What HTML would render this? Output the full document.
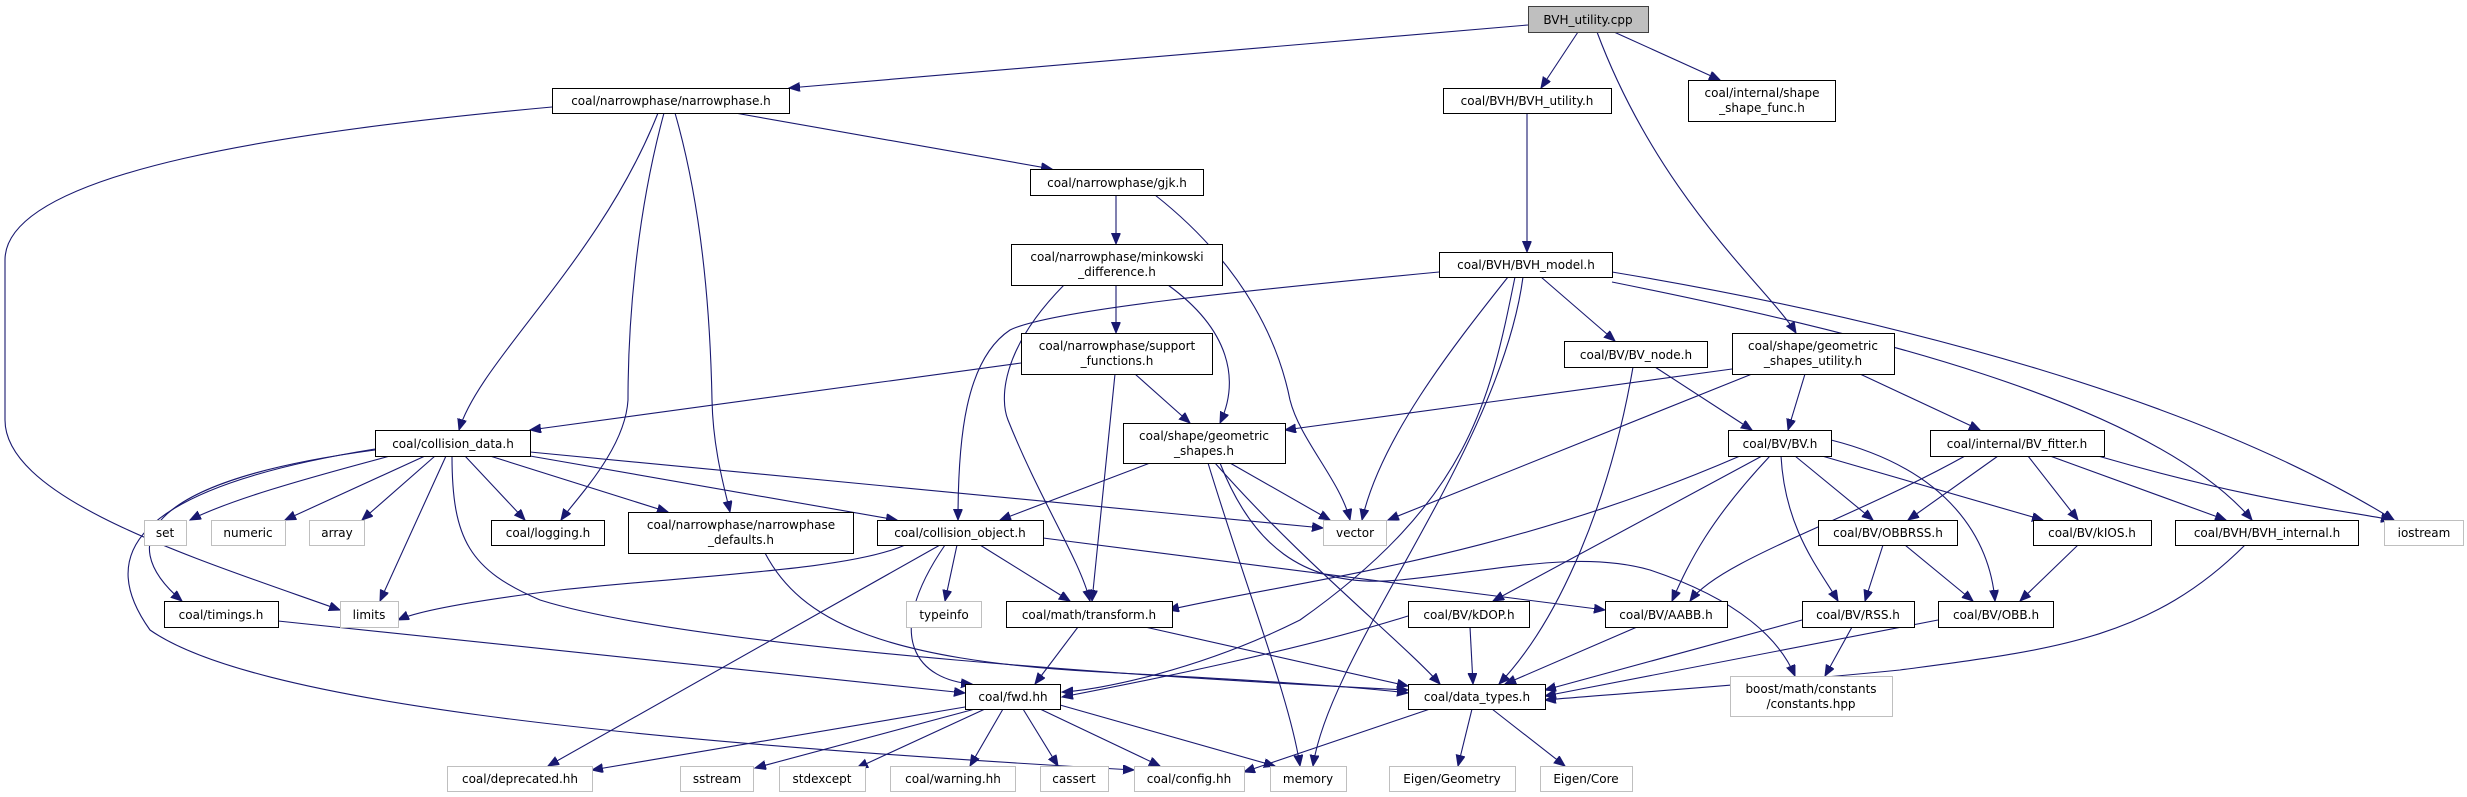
<!DOCTYPE html>
<html><head><meta charset="utf-8"><style>
html,body{margin:0;padding:0;background:#fff;}
svg{display:block;}
text{font-family:"DejaVu Sans","Liberation Sans",sans-serif;font-size:12px;fill:#000;text-anchor:middle;}
.n{fill:#fff;stroke:#000;stroke-width:1;}
.g{fill:#fff;stroke:#bfbfbf;stroke-width:1;}
.r{fill:#bfbfbf;stroke:#404040;stroke-width:1;}
path{fill:none;stroke:#191970;stroke-width:1.1;marker-end:url(#a);}
</style></head><body>
<svg width="2467" height="797" viewBox="0 0 2467 797" xmlns="http://www.w3.org/2000/svg">
<defs><marker id="a" markerUnits="userSpaceOnUse" markerWidth="12" markerHeight="10" refX="11" refY="4.5" orient="auto"><polygon points="0,0 11,4.5 0,9" fill="#191970" stroke="#191970"/></marker></defs>

<!-- edges -->
<path d="M1528,25 L789,88"/>
<path d="M1578,32 L1541,88"/>
<path d="M1597,32 C1660,200 1770,290 1796,333"/>
<path d="M1614,32 L1720,80"/>
<path d="M552,107 C300,130 5,170 5,260 L5,420 C5,500 200,560 340,610"/>
<path d="M658,113 C600,260 480,360 459,430"/>
<path d="M664,113 C635,220 628,330 628,400 C625,450 575,500 561,520"/>
<path d="M675,113 C700,200 710,300 712,400 C713,450 725,490 730,512"/>
<path d="M735,113 L1052,169"/>
<path d="M1116,195 L1116,244"/>
<path d="M1155,195 C1250,270 1280,350 1290,400 C1300,440 1340,480 1350,520"/>
<path d="M1116,285 L1116,333"/>
<path d="M1064,285 C1000,350 1000,400 1008,420 C1040,500 1080,560 1090,601"/>
<path d="M1168,285 C1230,330 1240,380 1220,423"/>
<path d="M1021,363 L530,430"/>
<path d="M1115,374 L1092,601"/>
<path d="M1135,374 L1190,423"/>
<path d="M1527,113 L1527,252"/>
<path d="M1439,272 C1250,290 1050,310 1010,330 C965,360 958,440 958,520"/>
<path d="M1508,277 C1450,350 1380,440 1362,520"/>
<path d="M1515,277 C1490,400 1470,500 1300,620 C1200,670 1100,690 1062,692"/>
<path d="M1523,277 C1500,450 1330,650 1313,766"/>
<path d="M1541,277 L1615,341"/>
<path d="M1612,282 C1850,330 2150,400 2252,520"/>
<path d="M1612,272 C1900,320 2200,400 2394,520"/>
<path d="M1633,367 C1610,500 1560,620 1499,684"/>
<path d="M1655,367 L1752,430"/>
<path d="M1732,369 L1285,430"/>
<path d="M1805,374 L1788,430"/>
<path d="M1860,374 L1980,430"/>
<path d="M1752,374 L1388,520"/>
<path d="M1150,463 L1000,520"/>
<path d="M1230,463 L1330,520"/>
<path d="M1208,463 C1250,600 1290,700 1300,766"/>
<path d="M1215,463 C1300,560 1400,640 1440,684"/>
<path d="M1220,463 C1250,540 1300,590 1400,580 C1500,570 1580,550 1650,570 C1740,600 1780,640 1795,676"/>
<path d="M390,456 C300,480 230,500 190,520"/>
<path d="M425,456 L285,520"/>
<path d="M435,456 L362,520"/>
<path d="M465,456 L525,520"/>
<path d="M490,456 L668,512"/>
<path d="M530,456 L897,520"/>
<path d="M530,452 L1323,528"/>
<path d="M446,456 L380,601"/>
<path d="M375,450 C150,480 110,540 182,601"/>
<path d="M375,449 C120,490 100,560 150,630 C250,700 600,740 1134,770"/>
<path d="M452,456 C452,540 470,570 540,600 C700,650 1200,680 1408,690"/>
<path d="M905,545 C850,570 700,575 560,590 C480,600 420,610 398,620"/>
<path d="M940,545 L548,766"/>
<path d="M945,545 C880,640 920,680 972,684"/>
<path d="M957,545 L945,601"/>
<path d="M980,545 L1070,601"/>
<path d="M1043,538 L1605,610"/>
<path d="M765,553 C800,620 880,660 1100,672 C1250,680 1350,686 1408,693"/>
<path d="M1078,627 L1035,684"/>
<path d="M1145,627 L1408,686"/>
<path d="M278,621 L965,693"/>
<path d="M965,707 L592,770"/>
<path d="M975,709 L755,768"/>
<path d="M985,709 L857,768"/>
<path d="M1003,709 L970,766"/>
<path d="M1023,709 L1058,766"/>
<path d="M1040,709 L1160,766"/>
<path d="M1060,705 L1275,766"/>
<path d="M1430,709 L1244,772"/>
<path d="M1472,709 L1458,766"/>
<path d="M1492,709 L1565,766"/>
<path d="M1740,456 C1500,560 1300,580 1168,610"/>
<path d="M1762,456 L1493,601"/>
<path d="M1770,456 C1710,520 1690,560 1672,601"/>
<path d="M1781,456 C1785,530 1820,570 1838,601"/>
<path d="M1795,456 L1873,520"/>
<path d="M1822,456 L2043,520"/>
<path d="M1831,440 C1950,470 1990,540 1995,601"/>
<path d="M1965,456 C1850,520 1720,560 1690,601"/>
<path d="M1998,456 L1908,520"/>
<path d="M2028,456 L2078,520"/>
<path d="M2050,456 L2226,520"/>
<path d="M2098,456 C2250,500 2340,510 2392,520"/>
<path d="M1883,545 L1865,601"/>
<path d="M1905,545 L1973,601"/>
<path d="M2078,545 L2020,601"/>
<path d="M2245,545 C2150,640 2050,650 1900,670 C1750,685 1600,695 1545,700"/>
<path d="M1470,627 L1473,684"/>
<path d="M1408,616 C1300,650 1150,680 1062,697"/>
<path d="M1637,627 L1505,684"/>
<path d="M1802,620 L1545,690"/>
<path d="M1852,627 L1825,676"/>
<path d="M1938,620 L1545,696"/>

<!-- nodes -->
<rect class="r" x="1528.5" y="6.5" width="120" height="26"/><text x="1588" y="24">BVH_utility.cpp</text>
<rect class="n" x="552.5" y="88.5" width="237" height="25"/><text x="671" y="105">coal/narrowphase/narrowphase.h</text>
<rect class="n" x="1443.5" y="88.5" width="168" height="25"/><text x="1527" y="105">coal/BVH/BVH_utility.h</text>
<rect class="n" x="1688.5" y="80.5" width="147" height="41"/><text x="1762" y="97">coal/internal/shape</text><text x="1762" y="112">_shape_func.h</text>
<rect class="n" x="1030.5" y="169.5" width="173" height="26"/><text x="1117" y="187">coal/narrowphase/gjk.h</text>
<rect class="n" x="1011.5" y="244.5" width="211" height="41"/><text x="1117" y="261">coal/narrowphase/minkowski</text><text x="1117" y="276">_difference.h</text>
<rect class="n" x="1439.5" y="252.5" width="173" height="25"/><text x="1526" y="269">coal/BVH/BVH_model.h</text>
<rect class="n" x="1021.5" y="333.5" width="191" height="41"/><text x="1117" y="350">coal/narrowphase/support</text><text x="1117" y="365">_functions.h</text>
<rect class="n" x="1564.5" y="341.5" width="143" height="26"/><text x="1636" y="359">coal/BV/BV_node.h</text>
<rect class="n" x="1732.5" y="333.5" width="162" height="41"/><text x="1813" y="350">coal/shape/geometric</text><text x="1813" y="365">_shapes_utility.h</text>
<rect class="n" x="375.5" y="430.5" width="155" height="26"/><text x="453" y="448">coal/collision_data.h</text>
<rect class="n" x="1123.5" y="423.5" width="162" height="40"/><text x="1204" y="440">coal/shape/geometric</text><text x="1204" y="455">_shapes.h</text>
<rect class="n" x="1728.5" y="430.5" width="103" height="26"/><text x="1780" y="448">coal/BV/BV.h</text>
<rect class="n" x="1930.5" y="430.5" width="174" height="26"/><text x="2017" y="448">coal/internal/BV_fitter.h</text>
<rect class="g" x="144.5" y="520.5" width="42" height="25"/><text x="165" y="537">set</text>
<rect class="g" x="211.5" y="520.5" width="74" height="25"/><text x="248" y="537">numeric</text>
<rect class="g" x="309.5" y="520.5" width="55" height="25"/><text x="337" y="537">array</text>
<rect class="n" x="491.5" y="520.5" width="113" height="25"/><text x="548" y="537">coal/logging.h</text>
<rect class="n" x="628.5" y="512.5" width="225" height="41"/><text x="741" y="529">coal/narrowphase/narrowphase</text><text x="741" y="544">_defaults.h</text>
<rect class="n" x="877.5" y="520.5" width="166" height="25"/><text x="960" y="537">coal/collision_object.h</text>
<rect class="g" x="1323.5" y="520.5" width="63" height="25"/><text x="1355" y="537">vector</text>
<rect class="n" x="1818.5" y="520.5" width="139" height="25"/><text x="1888" y="537">coal/BV/OBBRSS.h</text>
<rect class="n" x="2033.5" y="520.5" width="118" height="25"/><text x="2092" y="537">coal/BV/kIOS.h</text>
<rect class="n" x="2175.5" y="520.5" width="183" height="25"/><text x="2267" y="537">coal/BVH/BVH_internal.h</text>
<rect class="g" x="2384.5" y="520.5" width="79" height="25"/><text x="2424" y="537">iostream</text>
<rect class="n" x="164.5" y="601.5" width="114" height="26"/><text x="221" y="619">coal/timings.h</text>
<rect class="g" x="340.5" y="601.5" width="58" height="26"/><text x="369" y="619">limits</text>
<rect class="g" x="906.5" y="601.5" width="75" height="26"/><text x="944" y="619">typeinfo</text>
<rect class="n" x="1006.5" y="601.5" width="166" height="26"/><text x="1089" y="619">coal/math/transform.h</text>
<rect class="n" x="1408.5" y="601.5" width="121" height="26"/><text x="1469" y="619">coal/BV/kDOP.h</text>
<rect class="n" x="1605.5" y="601.5" width="122" height="26"/><text x="1666" y="619">coal/BV/AABB.h</text>
<rect class="n" x="1802.5" y="601.5" width="112" height="26"/><text x="1858" y="619">coal/BV/RSS.h</text>
<rect class="n" x="1938.5" y="601.5" width="115" height="26"/><text x="1996" y="619">coal/BV/OBB.h</text>
<rect class="n" x="965.5" y="684.5" width="95" height="25"/><text x="1013" y="701">coal/fwd.hh</text>
<rect class="n" x="1408.5" y="684.5" width="137" height="25"/><text x="1477" y="701">coal/data_types.h</text>
<rect class="g" x="1730.5" y="676.5" width="162" height="40"/><text x="1811" y="693">boost/math/constants</text><text x="1811" y="708">/constants.hpp</text>
<rect class="g" x="447.5" y="766.5" width="145" height="25"/><text x="520" y="783">coal/deprecated.hh</text>
<rect class="g" x="680.5" y="766.5" width="73" height="25"/><text x="717" y="783">sstream</text>
<rect class="g" x="779.5" y="766.5" width="86" height="25"/><text x="822" y="783">stdexcept</text>
<rect class="g" x="890.5" y="766.5" width="125" height="25"/><text x="953" y="783">coal/warning.hh</text>
<rect class="g" x="1040.5" y="766.5" width="68" height="25"/><text x="1074" y="783">cassert</text>
<rect class="g" x="1134.5" y="766.5" width="110" height="25"/><text x="1189" y="783">coal/config.hh</text>
<rect class="g" x="1270.5" y="766.5" width="76" height="25"/><text x="1308" y="783">memory</text>
<rect class="g" x="1389.5" y="766.5" width="126" height="25"/><text x="1452" y="783">Eigen/Geometry</text>
<rect class="g" x="1540.5" y="766.5" width="92" height="25"/><text x="1586" y="783">Eigen/Core</text>
</svg>
</body></html>
